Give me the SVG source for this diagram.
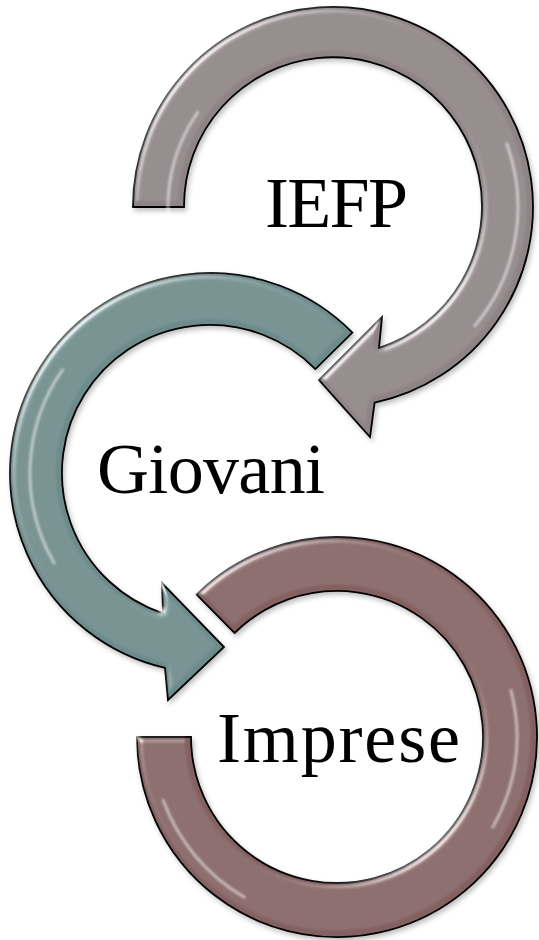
<svg xmlns="http://www.w3.org/2000/svg" width="539" height="940" viewBox="0 0 539 940">
<defs>
<style>
.arrow{stroke:#000;stroke-width:1.8;stroke-linejoin:miter;filter:url(#bevel)}
.hl{fill:none;stroke:#fff;stroke-width:3;stroke-linecap:round;opacity:0.5;filter:url(#soft)}
.lbl{font-family:"Liberation Serif","Times New Roman",serif;font-size:72px;fill:#000}
</style>
<filter id="bevel" x="-10%" y="-10%" width="125%" height="125%">
<feGaussianBlur in="SourceAlpha" stdDeviation="3" result="b"/>
<feSpecularLighting in="b" surfaceScale="4" specularConstant="0.9" specularExponent="28" lighting-color="#ffffff" result="s">
<feDistantLight azimuth="225" elevation="40"/>
</feSpecularLighting>
<feComposite in="s" in2="SourceAlpha" operator="in" result="s2"/>
<feComposite in="SourceGraphic" in2="s2" operator="arithmetic" k1="0" k2="1" k3="0.7" k4="0" result="lit"/>
<feOffset in="SourceAlpha" dx="2" dy="3" result="o"/>
<feGaussianBlur in="o" stdDeviation="2.5" result="ob"/>
<feFlood flood-color="#000" flood-opacity="0.25"/>
<feComposite in2="ob" operator="in" result="sh"/>
<feMerge><feMergeNode in="sh"/><feMergeNode in="lit"/></feMerge>
</filter>
<filter id="soft" x="-20%" y="-20%" width="140%" height="140%"><feGaussianBlur stdDeviation="1.2"/></filter>
</defs>
<rect width="539" height="940" fill="#fff"/>
<g id="connectors">
<path id="arrow-iefp" class="arrow" fill="#8e8486" d="M133,207 A200,200 0 1 1 374.6,402.6 L370,437 L319,380 L382,317 L379,348 A149,149 0 1 0 184,207 Z"/>
<path class="hl" d="M173.6,249.7 A165,165 0 0 1 197.8,112.4"/>
<path class="hl" d="M506.8,143.7 A185,185 0 0 1 474.7,325.9"/>
<path id="arrow-giovani" class="arrow" fill="#6e8b8b" d="M352.4,332.6 A200,200 0 1 0 165,667.9 L168,700 L224,647 L162,583 L163,613.3 A148,148 0 1 1 315.4,369.1 Z"/>
<path class="hl" d="M62.5,369.8 A180,180 0 0 0 54.1,563"/>
<path id="arrow-imprese" class="arrow" fill="#846161" d="M196.6,594.6 A200,200 0 1 1 137,737 L191,737 A146,146 0 1 0 234.5,633 Z"/>
<path class="hl" d="M510.9,690.4 A180,180 0 0 1 492.9,827"/>
<path class="hl" d="M244.5,897.2 A185,185 0 0 1 163.2,800.3"/>
</g>
<g id="node-iefp"><text class="lbl" x="265" y="227" textLength="143">IEFP</text></g>
<g id="node-giovani"><text class="lbl" x="97" y="493" textLength="228">Giovani</text></g>
<g id="node-imprese"><text class="lbl" x="217" y="762" textLength="243">Imprese</text></g>
</svg>
